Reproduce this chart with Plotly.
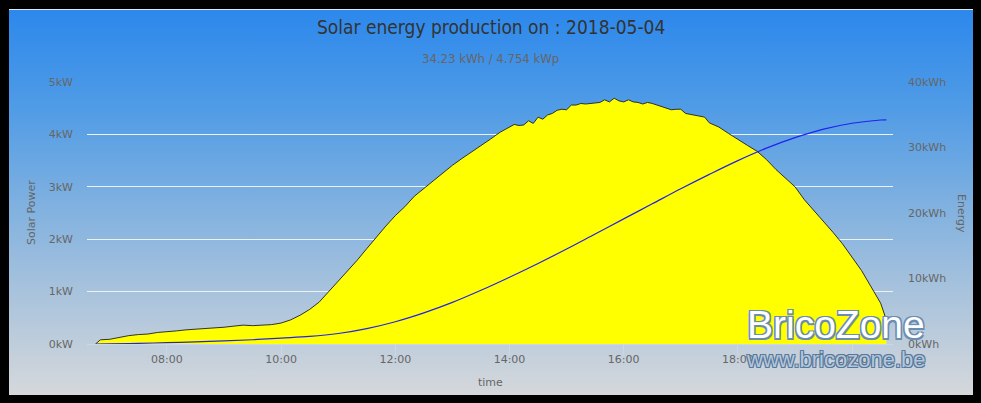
import base64
import plotly.graph_objects as go

DATE = "2018-05-04"

# Solar power (kW)
power_times = [
    "06:45", "06:50", "07:00", "07:10", "07:20", "07:30", "07:40", "07:50",
    "08:00", "08:10", "08:20", "08:30", "08:40", "08:50",
    "09:00", "09:10", "09:20", "09:30", "09:40", "09:50",
    "10:00", "10:10", "10:20", "10:30", "10:40", "10:50",
    "11:00", "11:10", "11:20", "11:30", "11:40", "11:50",
    "12:00", "12:10", "12:20", "12:30", "12:40", "12:50",
    "13:00", "13:10", "13:20", "13:30", "13:40", "13:50",
    "14:00", "14:05", "14:10", "14:15", "14:20", "14:25", "14:30", "14:35",
    "14:40", "14:45", "14:50", "14:55", "15:00", "15:05", "15:10", "15:15",
    "15:20", "15:25", "15:30", "15:35", "15:40", "15:45", "15:50", "15:55",
    "16:00", "16:05", "16:10", "16:15", "16:20", "16:25", "16:30", "16:35",
    "16:40", "16:45", "16:50", "16:55", "17:00", "17:05", "17:10", "17:15",
    "17:20", "17:25", "17:30", "17:40", "17:50",
    "18:00", "18:10", "18:20", "18:30", "18:40", "18:50",
    "19:00", "19:10", "19:20", "19:30", "19:40", "19:50",
    "20:00", "20:10", "20:20", "20:30", "20:36",
]
power_kw = [
    0.00, 0.08, 0.09, 0.13, 0.16, 0.18, 0.19, 0.22,
    0.23, 0.25, 0.27, 0.28, 0.29, 0.30,
    0.32, 0.34, 0.36, 0.35, 0.36, 0.37,
    0.40, 0.46, 0.55, 0.66, 0.80, 1.00,
    1.18, 1.38, 1.60, 1.82, 2.04, 2.25,
    2.45, 2.62, 2.82, 2.97, 3.12, 3.27,
    3.41, 3.54, 3.66, 3.79, 3.91, 4.04,
    4.13, 4.19, 4.17, 4.18, 4.26, 4.21, 4.33, 4.29,
    4.37, 4.40, 4.46, 4.48, 4.47, 4.56, 4.56, 4.59,
    4.58, 4.59, 4.61, 4.61, 4.66, 4.62, 4.69, 4.64,
    4.62, 4.66, 4.62, 4.61, 4.58, 4.61, 4.59, 4.56,
    4.53, 4.51, 4.47, 4.48, 4.48, 4.40, 4.38, 4.37,
    4.34, 4.33, 4.22, 4.14, 4.02,
    3.90, 3.79, 3.68, 3.52, 3.33, 3.16,
    3.00, 2.75, 2.55, 2.35, 2.13, 1.91,
    1.65, 1.40, 1.09, 0.78, 0.46,
]

# Cumulative energy (kWh)
energy_times = [
    "06:45", "07:00", "07:30", "08:00", "08:30", "09:00", "09:30", "10:00",
    "10:30", "11:00", "11:30", "12:00", "12:30", "13:00", "13:30", "14:00",
    "14:30", "15:00", "15:30", "16:00", "16:30", "17:00", "17:30", "18:00",
    "18:30", "19:00", "19:30", "20:00", "20:30", "20:36",
]
energy_kwh = [
    0.00, 0.02, 0.10, 0.20, 0.33, 0.48, 0.65, 0.90,
    1.15, 1.60, 2.35, 3.40, 4.75, 6.35, 8.20, 10.20,
    12.30, 14.50, 16.80, 19.10, 21.40, 23.70, 25.90, 28.00,
    29.90, 31.50, 32.80, 33.70, 34.20, 34.23,
]

x_ticks = ["08:00", "10:00", "12:00", "14:00", "16:00", "18:00", "20:00"]
x_range = ["06:36", "20:43"]

title_text = "Solar energy production on : 2018-05-04"
subtitle_text = "34.23 kWh / 4.754 kWp"

def ts(hm):
    return f"{DATE} {hm}"

# ---- background gradient (card) ----
svg = (
    '<svg xmlns="http://www.w3.org/2000/svg" width="964" height="386" viewBox="0 0 964 386" preserveAspectRatio="none">'
    '<defs><linearGradient id="g" x1="0" y1="0" x2="0" y2="1">'
    '<stop offset="0" stop-color="#2c88ec"/>'
    '<stop offset="0.25" stop-color="#4f9be6"/>'
    '<stop offset="0.5" stop-color="#7eb0e0"/>'
    '<stop offset="0.75" stop-color="#abc4dc"/>'
    '<stop offset="1" stop-color="#d5d8db"/>'
    '</linearGradient></defs>'
    '<rect width="964" height="386" fill="url(#g)"/>'
    '<rect width="964" height="1" fill="#dfe9f5"/>'
    '</svg>'
)
svg_uri = "data:image/svg+xml;base64," + base64.b64encode(svg.encode()).decode()

W, H = 981, 403
ML, MR, MT, MB = 87, 88, 82, 59
PW = W - ML - MR
PH = H - MT - MB

def px_x(px):
    return (px - ML) / PW

def px_y(py):
    return (H - MB - py) / PH

fig = go.Figure()

fig.add_trace(go.Scatter(
    x=[ts(t) for t in power_times], y=power_kw,
    mode="lines", fill="tozeroy", fillcolor="#ffff00",
    line=dict(color="rgba(40,40,40,0.95)", width=1),
    name="Solar Power", yaxis="y", hoverinfo="skip",
))
fig.add_trace(go.Scatter(
    x=[ts(t) for t in energy_times], y=energy_kwh,
    mode="lines", line=dict(color="#2222ee", width=1.2, shape="spline"),
    name="Energy", yaxis="y2", hoverinfo="skip",
))

tick_font = dict(family="DejaVu Sans, Verdana, sans-serif", size=11, color="#666666")

fig.update_layout(
    width=W, height=H,
    margin=dict(l=ML, r=MR, t=MT, b=MB, pad=0),
    paper_bgcolor="#000000",
    plot_bgcolor="rgba(0,0,0,0)",
    showlegend=False,
    xaxis=dict(
        type="date",
        range=[ts(x_range[0]), ts(x_range[1])],
        tickvals=[ts(t) for t in x_ticks],
        ticktext=x_ticks,
        showgrid=False, zeroline=False,
        showline=True, linecolor="#ccd6eb", linewidth=1,
        ticks="outside", ticklen=10, tickcolor="#ccd6eb", tickwidth=1,
        tickfont=tick_font,
        ticklabelstandoff=-5,
    ),
    yaxis=dict(
        range=[0, 5], dtick=1, ticksuffix="kW",
        showgrid=True, gridcolor="#eef2f7", gridwidth=1,
        zeroline=False, showline=False,
        tickfont=tick_font, ticklabelstandoff=13,
    ),
    yaxis2=dict(
        range=[0, 40], dtick=10, ticksuffix="kWh",
        overlaying="y", side="right",
        showgrid=False, zeroline=False, showline=False,
        tickfont=tick_font, ticklabelstandoff=14,
    ),
    images=[dict(
        source=svg_uri, xref="paper", yref="paper",
        x=px_x(9), y=px_y(9), sizex=(973 - 9) / PW, sizey=(395 - 9) / PH,
        xanchor="left", yanchor="top", sizing="stretch", layer="below",
    )],
)

annotations = [
    dict(text=title_text, x=px_x(491), y=px_y(27),
         font=dict(family="Liberation Sans Narrow, Arial Narrow, DejaVu Sans Condensed, sans-serif", size=19, color="#333333")),
    dict(text=subtitle_text, x=px_x(491), y=px_y(58),
         font=dict(family="Liberation Sans Narrow, Arial Narrow, DejaVu Sans Condensed, sans-serif", size=13, color="#666666")),
    dict(text="Solar Power", x=px_x(31), y=px_y(213), textangle=-90,
         font=dict(family="DejaVu Sans, Verdana, sans-serif", size=11, color="#666666")),
    dict(text="Energy", x=px_x(962), y=px_y(213), textangle=90,
         font=dict(family="DejaVu Sans, Verdana, sans-serif", size=11, color="#666666")),
    dict(text="time", x=px_x(490), y=px_y(382),
         font=dict(family="DejaVu Sans, Verdana, sans-serif", size=11, color="#666666")),
    dict(text="BricoZone", x=px_x(836), y=px_y(324),
         font=dict(family="Liberation Sans, Arial, sans-serif", size=39, color="#ffffff",
                   shadow="-1.5px -1.5px 0 #6a8db0, 1.5px -1.5px 0 #6a8db0, -1.5px 1.5px 0 #6a8db0, 1.5px 1.5px 0 #6a8db0")),
    dict(text="www.bricozone.be", x=px_x(836), y=px_y(359),
         font=dict(family="Liberation Sans, Arial, sans-serif", size=22, color="#b4c6da",
                   shadow="-1px -1px 0 #55779a, 1px -1px 0 #55779a, -1px 1px 0 #55779a, 1px 1px 0 #55779a")),
]
for a in annotations:
    a.update(xref="paper", yref="paper", showarrow=False, xanchor="center", yanchor="middle")
fig.update_layout(annotations=annotations)

fig.write_html("out.html")
